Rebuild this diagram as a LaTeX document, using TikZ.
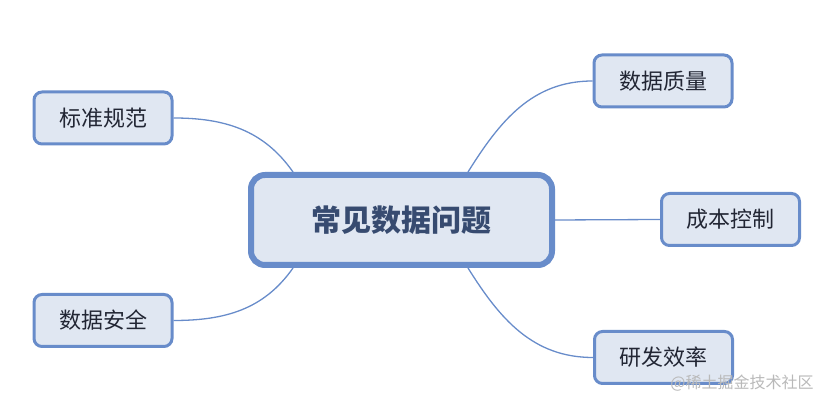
\documentclass[tikz,border=0pt]{standalone}
\usepackage{fontspec}
\newfontfamily\cjk{Noto Sans CJK SC}
\usetikzlibrary{positioning}
\definecolor{mapblue}{RGB}{104,140,202}
\definecolor{mapfill}{RGB}{224,231,242}
\definecolor{hubtext}{RGB}{55,75,112}
\definecolor{leaftext}{RGB}{34,38,52}
\definecolor{marktext}{RGB}{185,185,185}
\begin{document}
\begin{tikzpicture}[x=1pt,y=1pt,
  hub/.style={draw=mapblue,fill=mapfill,line width=6pt,rounded corners=14pt,
    minimum width=301pt,minimum height=90pt,text=hubtext,
    font=\cjk\bfseries\fontsize{30}{36}\selectfont},
  leaf/.style={draw=mapblue,fill=mapfill,line width=3pt,rounded corners=8pt,
    minimum width=138pt,minimum height=52pt,text=leaftext,
    font=\cjk\fontsize{22}{26}\selectfont},
  branch/.style={draw=mapblue,line width=1.3pt}]
  \useasboundingbox (0,0) rectangle (826,406);
  % centre topic
  \node[hub] (issue) at (401.5,186) {常见数据问题};
  % branches
  \node[leaf] (quality) at (663,325) {数据质量};
  \node[leaf] (cost) at (730.5,186.5) {成本控制};
  \node[leaf] (speed) at (663.5,48.5) {研发效率};
  \node[leaf] (norms) at (103,288) {标准规范};
  \node[leaf] (safety) at (103,85.5) {数据安全};
  \coordinate (ne) at ([xshift=66.5pt]issue.north);
  \coordinate (se) at ([xshift=66.5pt]issue.south);
  \coordinate (nw) at ([xshift=-108.5pt]issue.north);
  \coordinate (sw) at ([xshift=-108.5pt]issue.south);
  \draw[branch] (ne) to[out=58,in=180] (quality.west);
  \draw[branch] (issue.east) -- (cost.west);
  \draw[branch] (se) to[out=-58,in=180] (speed.west);
  \draw[branch] (nw) to[out=125,in=0] (norms.east);
  \draw[branch] (sw) to[out=-125,in=0] (safety.east);
  % watermark
  \node[text=marktext,font=\cjk\fontsize{16}{19}\selectfont] (mark) at (742,22.5) {@稀土掘金技术社区};
\end{tikzpicture}
\end{document}
